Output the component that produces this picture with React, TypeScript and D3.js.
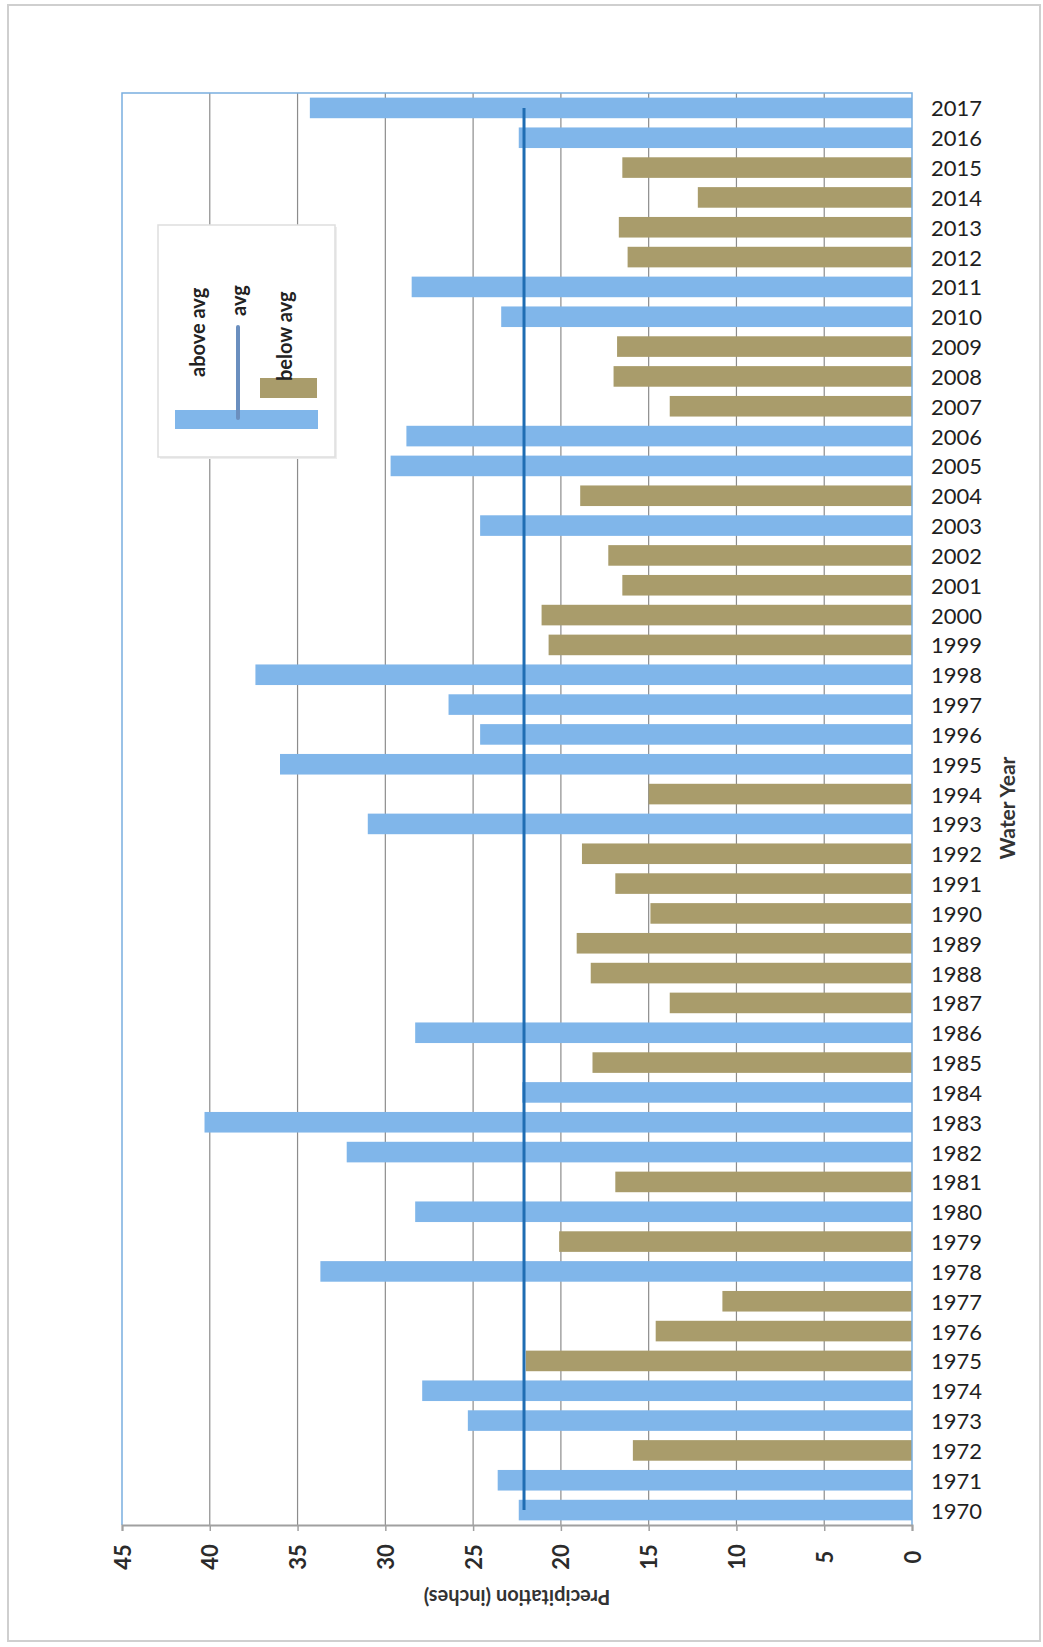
import { useEffect, useRef } from 'react';
import * as d3 from 'd3';

// Water years, top to bottom as printed
const YEARS = [
  '2017', '2016', '2015', '2014', '2013', '2012', '2011', '2010', '2009', '2008',
  '2007', '2006', '2005', '2004', '2003', '2002', '2001', '2000', '1999', '1998',
  '1997', '1996', '1995', '1994', '1993', '1992', '1991', '1990', '1989', '1988',
  '1987', '1986', '1985', '1984', '1983', '1982', '1981', '1980', '1979', '1978',
  '1977', '1976', '1975', '1974', '1973', '1972', '1971', '1970',
];

// Precipitation (inches), same order as YEARS
const PRECIP = [
  34.3, 22.4, 16.5, 12.2, 16.7, 16.2, 28.5, 23.4, 16.8, 17.0,
  13.8, 28.8, 29.7, 18.9, 24.6, 17.3, 16.5, 21.1, 20.7, 37.4,
  26.4, 24.6, 36.0, 15.0, 31.0, 18.8, 16.9, 14.9, 19.1, 18.3,
  13.8, 28.3, 18.2, 22.2, 40.3, 32.2, 16.9, 28.3, 20.1, 33.7,
  10.8, 14.6, 22.0, 27.9, 25.3, 15.9, 23.6, 22.4,
];

const AVG = 22.1;
const X_TICKS = [0, 5, 10, 15, 20, 25, 30, 35, 40, 45];

const ABOVE_COLOR = '#80b6ea';
const BELOW_COLOR = '#a99c6b';
const AVG_COLOR = '#1f6db3';
const FONT = 'Lato, "Open Sans", sans-serif';

const App = () => {
  const svgRef = useRef<SVGSVGElement>(null);

  useEffect(() => {
    if (!svgRef.current) return;
    d3.select(svgRef.current).selectAll('*').remove();

    const width = 1043;
    const height = 1647;
    const plot = { left: 122, right: 912, top: 93, bottom: 1525 };

    const svg = d3.select(svgRef.current).attr('width', width).attr('height', height);

    // scanned page frame
    svg
      .append('rect')
      .attr('x', 8)
      .attr('y', 5)
      .attr('width', 1032)
      .attr('height', 1636)
      .attr('fill', '#fff')
      .attr('stroke', '#cfcfcf')
      .attr('stroke-width', 2);

    // reversed value axis: 0 on the right
    const x = d3.scaleLinear().domain([0, 45]).range([plot.right, plot.left]);
    const y = d3
      .scaleBand<string>()
      .domain(YEARS)
      .range([plot.top, plot.bottom])
      .paddingInner(0.31)
      .paddingOuter(0.155);

    // gridlines
    svg
      .append('g')
      .selectAll('line')
      .data(X_TICKS.filter((t) => t > 0 && t < 45))
      .join('line')
      .attr('x1', (d) => x(d))
      .attr('x2', (d) => x(d))
      .attr('y1', plot.top)
      .attr('y2', plot.bottom)
      .attr('stroke', '#8c8c8c')
      .attr('stroke-width', 1.2);

    // bars
    svg
      .append('g')
      .selectAll('rect')
      .data(YEARS)
      .join('rect')
      .attr('x', (_, i) => x(PRECIP[i]))
      .attr('y', (d) => y(d)!)
      .attr('width', (_, i) => x(0) - x(PRECIP[i]))
      .attr('height', y.bandwidth())
      .attr('fill', (_, i) => (PRECIP[i] > AVG ? ABOVE_COLOR : BELOW_COLOR));

    // plot frame (left, top, right)
    svg
      .append('path')
      .attr('d', `M${plot.left},${plot.bottom}V${plot.top}H${plot.right}V${plot.bottom}`)
      .attr('fill', 'none')
      .attr('stroke', '#7aaee0')
      .attr('stroke-width', 1.5);

    // average line across band centres
    const first = YEARS[0];
    const last = YEARS[YEARS.length - 1];
    svg
      .append('line')
      .attr('x1', x(AVG))
      .attr('x2', x(AVG))
      .attr('y1', y(first)! + y.bandwidth() / 2)
      .attr('y2', y(last)! + y.bandwidth() / 2)
      .attr('stroke', AVG_COLOR)
      .attr('stroke-width', 3);

    // bottom axis
    const axis = svg
      .append('g')
      .attr('transform', `translate(0,${plot.bottom})`)
      .call(d3.axisBottom(x).tickValues(X_TICKS).tickSize(6).tickFormat(() => ''));
    axis.select('.domain').attr('stroke', '#a0a0a0').attr('stroke-width', 2);
    axis.selectAll('.tick line').attr('stroke', '#a0a0a0').attr('stroke-width', 1.5);

    // tick labels, rotated
    svg
      .append('g')
      .selectAll('text')
      .data(X_TICKS)
      .join('text')
      .attr('transform', (d) => `translate(${x(d)},1557) rotate(-90)`)
      .attr('text-anchor', 'middle')
      .attr('dominant-baseline', 'central')
      .attr('font-family', FONT)
      .attr('font-size', '22px')
      .attr('font-weight', 'bold')
      .attr('fill', '#2b2b2b')
      .text((d) => String(d));

    // axis title, upside down
    svg
      .append('text')
      .attr('transform', `translate(${(plot.left + plot.right) / 2},1598) rotate(180)`)
      .attr('text-anchor', 'middle')
      .attr('dominant-baseline', 'central')
      .attr('font-family', FONT)
      .attr('font-size', '20px')
      .attr('font-weight', 'bold')
      .attr('fill', '#333')
      .text('Precipitation (inches)');

    // year labels
    svg
      .append('g')
      .selectAll('text')
      .data(YEARS)
      .join('text')
      .attr('x', plot.right + 19)
      .attr('y', (d) => y(d)! + y.bandwidth() / 2)
      .attr('dominant-baseline', 'central')
      .attr('font-family', FONT)
      .attr('font-size', '22px')
      .attr('fill', '#1f1f1f')
      .text((d) => d);

    svg
      .append('text')
      .attr('transform', 'translate(1006,808) rotate(-90)')
      .attr('text-anchor', 'middle')
      .attr('dominant-baseline', 'central')
      .attr('font-family', FONT)
      .attr('font-size', '21px')
      .attr('font-weight', 'bold')
      .attr('fill', '#333')
      .text('Water Year');

    // legend
    const legend = svg.append('g');
    legend
      .append('rect')
      .attr('x', 160)
      .attr('y', 227)
      .attr('width', 177)
      .attr('height', 232)
      .attr('fill', '#eee');
    legend
      .append('rect')
      .attr('x', 158)
      .attr('y', 225)
      .attr('width', 177)
      .attr('height', 232)
      .attr('fill', '#fff')
      .attr('stroke', '#dedede')
      .attr('stroke-width', 1.5);
    legend
      .append('rect')
      .attr('x', 175)
      .attr('y', 410)
      .attr('width', 143)
      .attr('height', 19)
      .attr('fill', ABOVE_COLOR);
    legend
      .append('rect')
      .attr('x', 260)
      .attr('y', 378)
      .attr('width', 57)
      .attr('height', 20)
      .attr('fill', BELOW_COLOR);
    legend
      .append('line')
      .attr('x1', 238)
      .attr('x2', 238)
      .attr('y1', 327)
      .attr('y2', 418)
      .attr('stroke', '#6b8fbf')
      .attr('stroke-width', 4)
      .attr('stroke-linecap', 'round');

    const legendLabels = [
      { text: 'above avg', x: 197, y: 377 },
      { text: 'avg', x: 238, y: 316 },
      { text: 'below avg', x: 284, y: 381 },
    ];
    legend
      .selectAll('text')
      .data(legendLabels)
      .join('text')
      .attr('transform', (d) => `translate(${d.x},${d.y}) rotate(-90)`)
      .attr('dominant-baseline', 'central')
      .attr('font-family', FONT)
      .attr('font-size', '20px')
      .attr('font-weight', 'bold')
      .attr('fill', '#222')
      .text((d) => d.text);
  }, []);

  return (
    <div>
      <style>{'body{margin:0;background:#fff}'}</style>
      <svg ref={svgRef} style={{ display: 'block' }} />
    </div>
  );
};

export default App;
